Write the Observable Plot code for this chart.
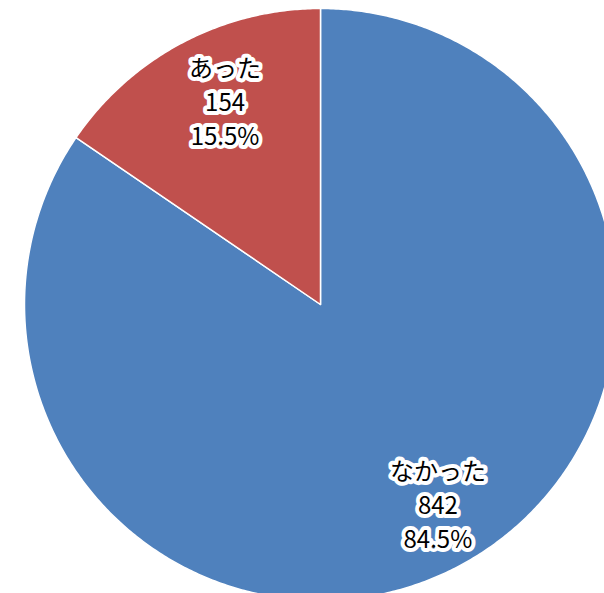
<!DOCTYPE html>
<html>
<head>
<meta charset="utf-8">
<script src="https://cdn.jsdelivr.net/npm/d3@7"></script>
<script src="https://cdn.jsdelivr.net/npm/@observablehq/plot@0.6"></script>
<style>
  html, body { margin: 0; padding: 0; background: #fff; overflow: hidden; }
  #chart svg { display: block; overflow: hidden; }
</style>
</head>
<body>
<div id="chart"></div>
<script>
const categories = ["なかった", "あった"];
const counts = [842, 154];
const percentLabels = ["84.5%", "15.5%"];
const colors = ["#4F81BD", "#C0504D"];

const rows = categories.map((c, i) => ({cat: c, count: counts[i], pct: percentLabels[i]}));
const arcs = d3.pie().sort(null).value(d => d.count)(rows);

// polygon outline of each slice (unit circle, y up, 0 at 12 o'clock clockwise)
const outline = [];
for (const a of arcs) {
  outline.push({cat: a.data.cat, x: 0, y: 0});
  const n = Math.max(2, Math.ceil((a.endAngle - a.startAngle) / (Math.PI / 360)));
  for (let k = 0; k <= n; k++) {
    const t = a.startAngle + (a.endAngle - a.startAngle) * k / n;
    outline.push({cat: a.data.cat, x: Math.sin(t), y: Math.cos(t)});
  }
}

const labelR = 0.77;
const labels = arcs.map(a => {
  const m = (a.startAngle + a.endAngle) / 2;
  return {
    cat: a.data.cat,
    x: labelR * Math.sin(m),
    y: labelR * Math.cos(m),
    text: `${a.data.cat}\n${a.data.count}\n${a.data.pct}`
  };
});

const cx = 320, cy = 304, R = 296;
const textOpts = {
  x: "x", y: "y", text: "text",
  fontSize: 24,
  lineHeight: 1.42,
  lineAnchor: "middle",
  textAnchor: "middle",
  dx: 11, dy: -3,
  fontFamily: "'Noto Sans CJK JP', 'Noto Sans', sans-serif"
};

const chart = Plot.plot({
  width: 604,
  height: 593,
  margin: 0,
  style: {background: "#fff"},
  x: {domain: [-1, 1], range: [cx - R, cx + R], axis: null},
  y: {domain: [-1, 1], range: [cy + R, cy - R], axis: null},
  color: {domain: categories, range: colors},
  marks: [
    Plot.line(outline, {
      x: "x", y: "y", z: "cat", fill: "cat",
      stroke: "white", strokeWidth: 1.5, strokeLinejoin: "round",
      curve: "linear-closed"
    }),
    Plot.text(labels, {...textOpts, fill: "white", stroke: "white", strokeWidth: 8, strokeLinejoin: "round", ariaLabel: "halo"}),
    Plot.text(labels, {...textOpts, fill: "black"})
  ]
});

d3.select(chart).select('g[aria-label="halo"]').style("filter", "blur(2px)");
document.getElementById("chart").appendChild(chart);
</script>
</body>
</html>
